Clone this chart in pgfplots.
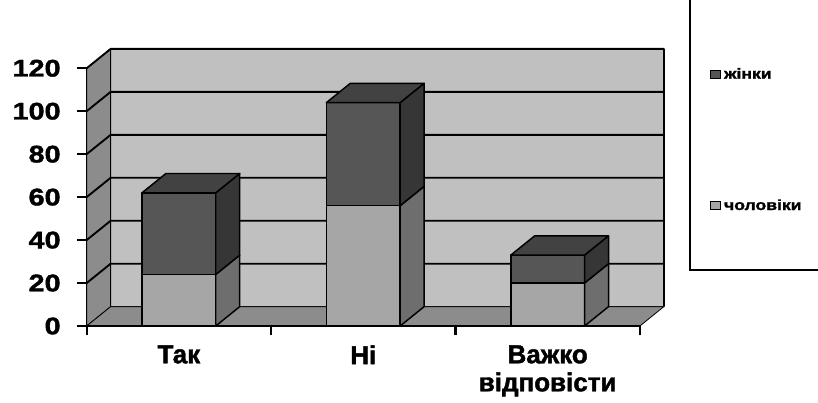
\documentclass[border=0pt]{standalone}
\usepackage{fontspec}
\setmainfont{Liberation Sans}[BoldFeatures={FakeBold=1.6}]
\newfontfamily\widefont{Liberation Sans}[FakeStretch=1.2, BoldFeatures={FakeBold=1.6, FakeStretch=1.2}]
\usepackage{pgfplots}
\pgfplotsset{compat=1.18}
\definecolor{backwall}{HTML}{C0C0C0}
\definecolor{sidewall}{HTML}{8C8C8C}
\definecolor{menfront}{HTML}{A6A6A6}
\definecolor{menside}{HTML}{6E6E6E}
\definecolor{womfront}{HTML}{565656}
\definecolor{womside}{HTML}{363636}
\definecolor{womtop}{HTML}{424242}
\pgfplotsset{
  face/.style={draw=black, line width=1.1pt, line join=round, forget plot},
  gline/.style={draw=black, line width=1.4pt, forget plot},
}
\begin{document}
\begin{tikzpicture}
\path[use as bounding box] (-65pt,-57.75pt) rectangle (548.5pt,244.5pt);
\begin{axis}[
  at={(0pt,0pt)}, anchor=south west,
  x=138.3pt, y=1.611pt,
  xmin=-0.5, xmax=2.5, ymin=0, ymax=120,
  clip=false,
  axis on top=true,
  axis x line*=bottom, axis y line*=left,
  x axis line style={line width=2.2pt},
  y axis line style={line width=0.8pt},
  xtick={-0.5,0.5,1.5,2.5}, xticklabels={},
  extra x ticks={0,1,2},
  extra x tick labels={Так,Ні,{Важко\\відповісти}},
  extra x tick style={major tick length=0pt, xticklabel style={yshift=-11pt}},
  ytick={0,20,...,120},
  tick align=outside,
  major tick length=7pt,
  tick style={black, line width=1.6pt},
  /pgf/number format/assume math mode=true,
  yticklabel style={font=\widefont\bfseries\fontsize{18}{18}\selectfont, xshift=-9pt},
  xticklabel style={font=\bfseries\fontsize{19.5}{21}\selectfont, align=center, anchor=north},
  legend style={at={(1.1268,1.012)}, anchor=north west, draw=none, fill=none,
    inner sep=0pt, row sep=85pt, font=\widefont\bfseries\fontsize{11}{11}\selectfont,
    legend cell align=left},
  legend image code/.code={\draw[#1, line width=0.8pt] (0pt,-3pt) rectangle (7.5pt,3pt);},
]
% walls and floor
\addplot[face, fill=backwall, line width=1.2pt] coordinates {(-0.37,9) (2.63,9) (2.63,129) (-0.37,129)} -- cycle;
\addplot[face, fill=sidewall, line width=0.6pt] coordinates {(-0.5,0) (-0.37,9) (-0.37,129) (-0.5,120)} -- cycle;
\addplot[face, fill=sidewall, line width=0.6pt] coordinates {(-0.5,0) (2.5,0) (2.63,9) (-0.37,9)} -- cycle;
% gridlines
\addplot[gline] coordinates {(-0.5,20) (-0.37,29) (2.63,29)};
\addplot[gline] coordinates {(-0.5,40) (-0.37,49) (2.63,49)};
\addplot[gline] coordinates {(-0.5,60) (-0.37,69) (2.63,69)};
\addplot[gline] coordinates {(-0.5,80) (-0.37,89) (2.63,89)};
\addplot[gline] coordinates {(-0.5,100) (-0.37,109) (2.63,109)};
\addplot[gline] coordinates {(-0.5,120) (-0.37,129) (2.63,129)};
% bar: Так (чоловіки 24, жінки 38)
\addplot[face, fill=menfront] coordinates {(-0.2,0) (0.2,0) (0.2,24) (-0.2,24)} -- cycle;
\addplot[face, fill=menside] coordinates {(0.2,0) (0.33,9) (0.33,33) (0.2,24)} -- cycle;
\addplot[face, fill=womfront] coordinates {(-0.2,24) (0.2,24) (0.2,62) (-0.2,62)} -- cycle;
\addplot[face, fill=womside] coordinates {(0.2,24) (0.33,33) (0.33,71) (0.2,62)} -- cycle;
\addplot[face, fill=womtop] coordinates {(-0.2,62) (0.2,62) (0.33,71) (-0.07,71)} -- cycle;
% bar: Ні (чоловіки 56, жінки 48)
\addplot[face, fill=menfront] coordinates {(0.8,0) (1.2,0) (1.2,56) (0.8,56)} -- cycle;
\addplot[face, fill=menside] coordinates {(1.2,0) (1.33,9) (1.33,65) (1.2,56)} -- cycle;
\addplot[face, fill=womfront] coordinates {(0.8,56) (1.2,56) (1.2,104) (0.8,104)} -- cycle;
\addplot[face, fill=womside] coordinates {(1.2,56) (1.33,65) (1.33,113) (1.2,104)} -- cycle;
\addplot[face, fill=womtop] coordinates {(0.8,104) (1.2,104) (1.33,113) (0.93,113)} -- cycle;
% bar: Важко відповісти (чоловіки 20, жінки 13)
\addplot[face, fill=menfront] coordinates {(1.8,0) (2.2,0) (2.2,20) (1.8,20)} -- cycle;
\addplot[face, fill=menside] coordinates {(2.2,0) (2.33,9) (2.33,29) (2.2,20)} -- cycle;
\addplot[face, fill=womfront] coordinates {(1.8,20) (2.2,20) (2.2,33) (1.8,33)} -- cycle;
\addplot[face, fill=womside] coordinates {(2.2,20) (2.33,29) (2.33,42) (2.2,33)} -- cycle;
\addplot[face, fill=womtop] coordinates {(1.8,33) (2.2,33) (2.33,42) (1.93,42)} -- cycle;
% legend
\addlegendimage{fill=womfront, draw=black}
\addlegendimage{fill=menfront, draw=black}
\legend{жінки, чоловіки}
\end{axis}
\draw[line width=0.8pt] (452.5pt,245pt) -- (452.5pt,42pt) -- (549pt,42pt);
\end{tikzpicture}
\end{document}
